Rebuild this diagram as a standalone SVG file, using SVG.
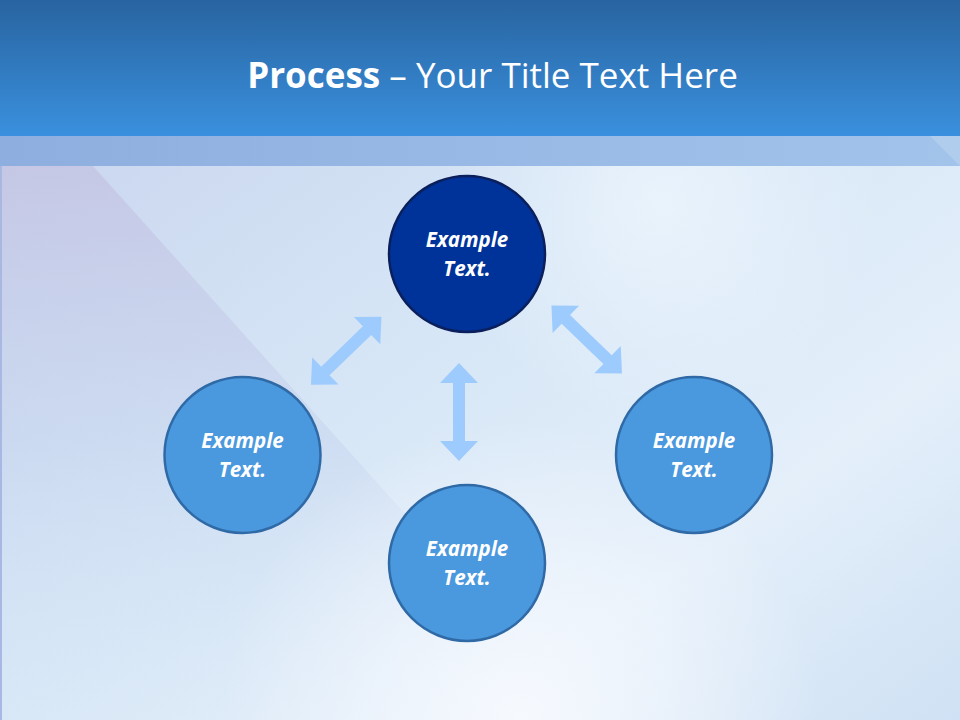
<svg xmlns="http://www.w3.org/2000/svg" xmlns:xlink="http://www.w3.org/1999/xlink" width="960" height="720" viewBox="0 0 960 720">
  <defs>
    <linearGradient id="hdr" x1="0" y1="0" x2="0" y2="1">
      <stop offset="0" stop-color="#2864a0"/>
      <stop offset="1" stop-color="#3a90de"/>
    </linearGradient>
    <linearGradient id="band" x1="0" y1="0" x2="1" y2="0">
      <stop offset="0" stop-color="#8eaedf"/>
      <stop offset="0.5" stop-color="#98b9e5"/>
      <stop offset="1" stop-color="#a2c3ea"/>
    </linearGradient>
    <linearGradient id="bg" x1="0" y1="0" x2="1" y2="1">
      <stop offset="0" stop-color="#c6d0ec"/>
      <stop offset="0.45" stop-color="#d6e6f6"/>
      <stop offset="0.75" stop-color="#e4effa"/>
      <stop offset="1" stop-color="#cfe1f4"/>
    </linearGradient>
    <linearGradient id="lav" x1="0" y1="0" x2="0" y2="1">
      <stop offset="0" stop-color="#c4c4e2" stop-opacity="0.8"/>
      <stop offset="0.5" stop-color="#c6d4ee" stop-opacity="0.5"/>
      <stop offset="1" stop-color="#d4e6f6" stop-opacity="0"/>
    </linearGradient>
    <radialGradient id="glow1" cx="520" cy="720" r="300" gradientUnits="userSpaceOnUse">
      <stop offset="0" stop-color="#f6f9fe" stop-opacity="1"/>
      <stop offset="1" stop-color="#f6f9fe" stop-opacity="0"/>
    </radialGradient>
    <radialGradient id="glow2" cx="660" cy="200" r="220" gradientUnits="userSpaceOnUse">
      <stop offset="0" stop-color="#eef6fd" stop-opacity="0.8"/>
      <stop offset="1" stop-color="#eef6fd" stop-opacity="0"/>
    </radialGradient>
    <polygon id="dbl" points="-49,0 -29,-19 -29,-6 29,-6 29,-19 49,0 29,19 29,6 -29,6 -29,19"/>
    <style>
      .arr { fill: #9dcbfd; }
      .node { fill: #4a98dd; stroke: #2f6aa6; stroke-width: 2.5; }
      .main { fill: #003399; stroke: #0b1f5c; stroke-width: 2.5; }
      .lbl { font-family: "Open Sans", "Liberation Sans", sans-serif; font-weight: bold; font-style: italic; font-size: 20.5px; fill: #ffffff; text-anchor: middle; }
      .ttl { font-family: "Open Sans", "Liberation Sans", sans-serif; font-size: 35px; fill: #ffffff; text-anchor: middle; }
    </style>
  </defs>

  <g id="background">
    <rect x="0" y="0" width="960" height="720" fill="url(#bg)"/>
    <polygon points="0,166 93,166 590,720 0,720" fill="url(#lav)"/>
    <rect x="0" y="166" width="960" height="554" fill="url(#glow2)"/>
    <rect x="0" y="166" width="960" height="554" fill="url(#glow1)"/>
    <rect x="0" y="166" width="2" height="554" fill="#a9b8e2"/>
  </g>

  <g id="header">
    <rect x="0" y="0" width="960" height="136" fill="url(#hdr)"/>
    <rect x="0" y="136" width="960" height="30" fill="url(#band)"/>
    <polygon points="930,136 960,136 960,166" fill="#b4d0ef" opacity="0.8"/>
    <text class="ttl" x="492.5" y="88"><tspan font-weight="bold">Process</tspan> – Your Title Text Here</text>
  </g>

  <g id="connectors">
    <use xlink:href="#dbl" class="arr" transform="translate(346.2,350.8) rotate(-44)"/>
    <use xlink:href="#dbl" class="arr" transform="translate(586.7,339.5) rotate(44)"/>
    <use xlink:href="#dbl" class="arr" transform="translate(459,412) rotate(90)"/>
  </g>

  <g id="node-top">
    <circle class="main" cx="467" cy="254" r="78"/>
    <text class="lbl" x="467" y="247">Example</text>
    <text class="lbl" x="467" y="276">Text.</text>
  </g>
  <g id="node-left">
    <circle class="node" cx="242.5" cy="455" r="78"/>
    <text class="lbl" x="242.5" y="448">Example</text>
    <text class="lbl" x="242.5" y="477">Text.</text>
  </g>
  <g id="node-bottom">
    <circle class="node" cx="467" cy="563" r="78"/>
    <text class="lbl" x="467" y="556">Example</text>
    <text class="lbl" x="467" y="585">Text.</text>
  </g>
  <g id="node-right">
    <circle class="node" cx="694" cy="455" r="78"/>
    <text class="lbl" x="694" y="448">Example</text>
    <text class="lbl" x="694" y="477">Text.</text>
  </g>
</svg>
